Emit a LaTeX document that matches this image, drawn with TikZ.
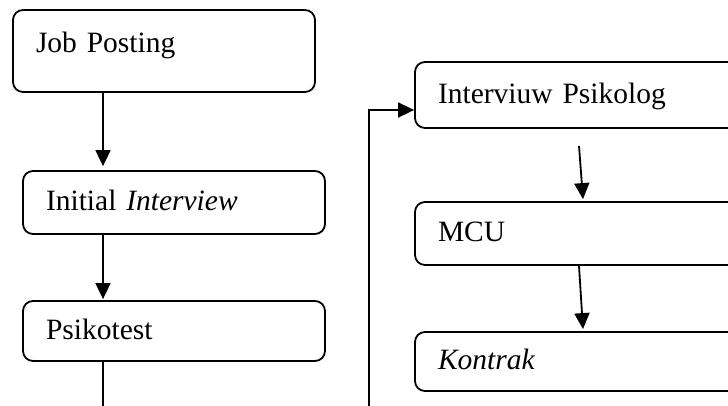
\documentclass[tikz,border=0pt]{standalone}
\usepackage{fontspec}
\setmainfont{Liberation Serif}
\usetikzlibrary{arrows.meta}

\begin{document}
\begin{tikzpicture}[x=1pt,y=-1pt,
    box/.style={draw,line width=1.8pt,rounded corners=10pt,inner xsep=23pt,inner ysep=0pt,
      align=left,text height=20pt,text depth=4pt,font=\fontsize{29.5}{32}\selectfont},
    flow/.style={line width=1.8pt,-{Triangle[length=16pt,width=15pt]}},
    line/.style={line width=1.8pt}]
    \clip (0,0) rectangle (728,405); %枠
    \node[box,minimum width=302pt,minimum height=82pt,text width=256pt,text depth=18pt] (job) at (164,51) {Job Posting};
    \node[box,minimum width=302pt,minimum height=63pt,text width=256pt] (initial) at (174,202.5) {Initial \textit{Interview}};
    \node[box,minimum width=302pt,minimum height=60pt,text width=256pt] (psiko) at (174,331) {Psikotest};
    \node[box,minimum width=340pt,minimum height=66pt,text width=294pt] (intv) at (585,95) {Interviuw Psikolog};
    \node[box,minimum width=340pt,minimum height=63pt,text width=294pt] (mcu) at (585,233.5) {MCU};
    \node[box,minimum width=340pt,minimum height=59pt,text width=294pt] (kontrak) at (585,361.5) {\textit{Kontrak}};
    \draw[flow,shorten >=4pt] ([xshift=-61pt]job.south) -- ([xshift=-71pt]initial.north);
    \draw[flow,shorten >=1pt] ([xshift=-71pt]initial.south) -- ([xshift=-71pt]psiko.north);
    \coordinate (psikoend) at (103,420); %下へ
    \draw[line] ([xshift=-71pt]psiko.south) -- (psikoend);
    \coordinate (loopstart) at (369,420); %下から
    \draw[flow] (loopstart) |- ([yshift=-15pt]intv.west);
    \draw[flow] ([xshift=-6pt,yshift=-17pt]intv.south) -- ([xshift=-2pt,yshift=2pt]mcu.north);
    \draw[flow] ([xshift=-6pt]mcu.south) -- ([xshift=-2pt,yshift=2pt]kontrak.north);
  \end{tikzpicture}
\end{document}
